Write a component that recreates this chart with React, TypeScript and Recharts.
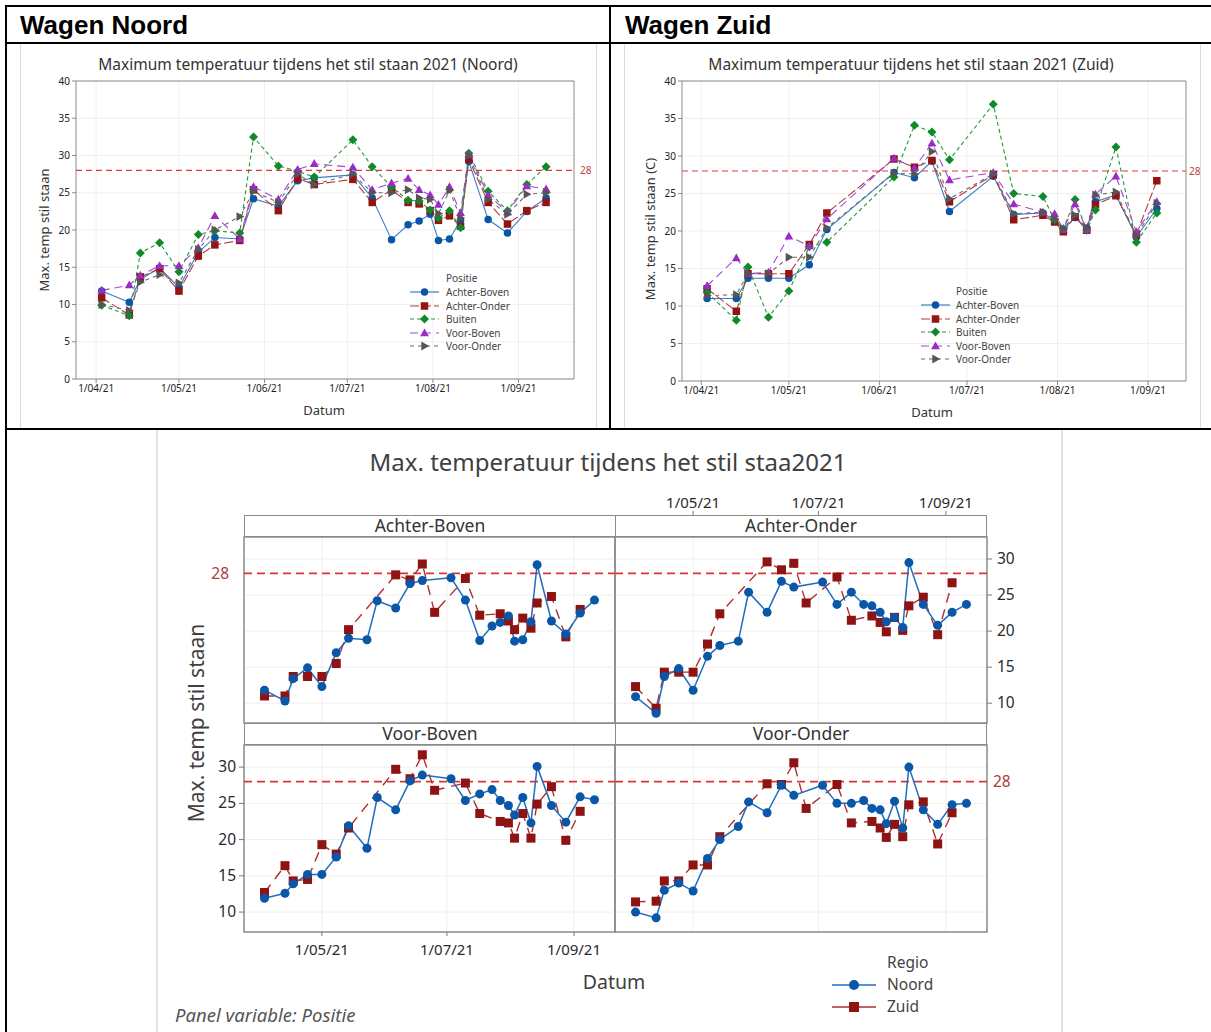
import React from "react";
import { LineChart, Line, XAxis, YAxis, CartesianGrid, ReferenceLine, ReferenceArea } from "recharts";

const FONT = '"Noto Sans", "Open Sans", sans-serif';

// meetdagen
const noordDates = [
  "2021-04-03", "2021-04-13", "2021-04-17", "2021-04-24", "2021-05-01", "2021-05-08", "2021-05-14",
  "2021-05-23", "2021-05-28", "2021-06-06", "2021-06-13", "2021-06-19", "2021-07-03", "2021-07-10",
  "2021-07-17", "2021-07-23", "2021-07-27", "2021-07-31", "2021-08-03", "2021-08-07", "2021-08-11",
  "2021-08-14", "2021-08-21", "2021-08-28", "2021-09-04", "2021-09-11",
];
const zuidDates = [
  "2021-04-03", "2021-04-13", "2021-04-17", "2021-04-24", "2021-05-01", "2021-05-08", "2021-05-14",
  "2021-06-06", "2021-06-13", "2021-06-19", "2021-06-25", "2021-07-10", "2021-07-17", "2021-07-27",
  "2021-07-31", "2021-08-03", "2021-08-07", "2021-08-11", "2021-08-14", "2021-08-21", "2021-08-28",
  "2021-09-04",
];

const POSITIES = ["Achter-Boven", "Achter-Onder", "Buiten", "Voor-Boven", "Voor-Onder"];

// Noord
const noordAchterBoven = [11.8, 10.3, 13.4, 14.9, 12.3, 17.0, 19.0, 18.8, 24.2, 23.2, 26.6, 27.0, 27.4, 24.3, 18.7, 20.7, 21.2, 22.1, 18.6, 18.8, 21.3, 29.2, 21.4, 19.6, 22.5, 24.3];
const noordAchterOnder = [10.9, 8.6, 13.7, 14.8, 11.8, 16.5, 18.0, 18.6, 25.4, 22.6, 26.9, 26.1, 26.8, 23.7, 25.4, 23.7, 23.5, 22.6, 21.3, 21.9, 20.5, 29.5, 23.7, 20.8, 22.6, 23.7];
const noordBuiten = [9.9, 8.5, 16.9, 18.3, 14.4, 19.4, 19.9, 19.6, 32.5, 28.6, 27.9, 27.1, 32.1, 28.5, 25.8, 24.0, 23.9, 22.7, 21.6, 22.6, 20.3, 30.3, 25.2, 22.6, 26.1, 28.5];
const noordVoorBoven = [11.9, 12.6, 13.9, 15.2, 15.2, 17.6, 21.9, 18.8, 25.8, 24.1, 28.1, 28.9, 28.4, 25.4, 26.3, 26.9, 25.4, 24.7, 23.4, 25.8, 22.3, 30.1, 24.7, 22.4, 25.9, 25.5];
const noordVoorOnder = [10.0, 9.2, 13.0, 14.0, 12.9, 17.4, 20.0, 21.8, 25.2, 23.7, 27.5, 26.1, 27.5, 25.0, 25.0, 25.4, 24.3, 24.1, 22.2, 25.3, 21.6, 30.0, 24.1, 22.1, 24.8, 25.0];

// Zuid
const zuidAchterBoven = [11.0, 11.0, 13.7, 13.7, 13.7, 15.5, 20.2, 27.8, 27.1, 29.3, 22.6, 27.3, 22.2, 22.4, 21.4, 20.2, 21.8, 20.4, 23.9, 24.8, 19.2, 23.0];
const zuidAchterOnder = [12.3, 9.3, 14.3, 14.3, 14.3, 18.2, 22.4, 29.6, 28.5, 29.4, 23.9, 27.5, 21.5, 22.1, 21.2, 19.9, 21.9, 20.1, 23.5, 24.7, 19.5, 26.7];
const zuidBuiten = [11.8, 8.1, 15.2, 8.5, 12.0, 17.9, 18.5, 27.2, 34.1, 33.2, 29.5, 36.9, 25.0, 24.6, 21.5, 20.3, 24.2, 20.1, 22.8, 31.2, 18.5, 22.4];
const zuidVoorBoven = [12.7, 16.4, 14.3, 14.5, 19.3, 18.0, 21.6, 29.7, 28.4, 31.7, 26.8, 27.8, 23.6, 22.5, 22.3, 20.2, 23.6, 20.2, 24.9, 27.3, 19.9, 23.9];
const zuidVoorOnder = [11.4, 11.5, 14.3, 14.3, 16.5, 16.5, 20.4, 27.7, 27.6, 30.6, 24.3, 27.6, 22.3, 22.5, 21.6, 20.3, 22.1, 20.4, 24.8, 25.2, 19.4, 23.7];

const monthTicks = ["2021-04-01", "2021-05-01", "2021-06-01", "2021-07-01", "2021-08-01", "2021-09-01"];
const panelMonthTicks = ["2021-05-01", "2021-07-01", "2021-09-01"];
const overviewYTicks = [0, 5, 10, 15, 20, 25, 30, 35, 40];
const panelYTicks = [10, 15, 20, 25, 30];
const THRESHOLD = 28;

const DAY_MS = 86400000;
const BASE = Date.UTC(2021, 3, 1);
const toDay = (iso: string) => Math.round((Date.parse(iso) - BASE) / DAY_MS);
const fmtDate = (d: number) => {
  const t = new Date(BASE + d * DAY_MS);
  return `${t.getUTCDate()}/${String(t.getUTCMonth() + 1).padStart(2, "0")}/21`;
};
const toPoints = (dates: string[], values: number[]) => dates.map((d, i) => ({ day: toDay(d), temp: values[i] }));

const MONTH_DAYS = monthTicks.map(toDay);
const PANEL_MONTH_DAYS = panelMonthTicks.map(toDay);

type Shape = "circle" | "square" | "diamond" | "triangle" | "arrow";

const POS_STYLE: Record<string, { line: string; fill: string; dash?: string; shape: Shape; size: number }> = {
  "Achter-Boven": { line: "#3a7fc8", fill: "#0a56a6", shape: "circle", size: 7.5 },
  "Achter-Onder": { line: "#b23c3c", fill: "#941414", dash: "9 3", shape: "square", size: 7.5 },
  Buiten: { line: "#1d9a38", fill: "#0f8a28", dash: "4 3", shape: "diamond", size: 7.5 },
  "Voor-Boven": { line: "#a744d2", fill: "#9a2cc6", dash: "8 5", shape: "triangle", size: 8 },
  "Voor-Onder": { line: "#6a6a6a", fill: "#555555", dash: "4 4", shape: "arrow", size: 8 },
};

function Marker({ shape, x, y, s, fill }: { shape: Shape; x: number; y: number; s: number; fill: string }) {
  const h = s / 2;
  if (shape === "circle") return <circle cx={x} cy={y} r={h} fill={fill} />;
  if (shape === "square") return <rect x={x - h} y={y - h} width={s} height={s} fill={fill} />;
  if (shape === "diamond")
    return <polygon points={`${x},${y - h * 1.2} ${x + h * 1.2},${y} ${x},${y + h * 1.2} ${x - h * 1.2},${y}`} fill={fill} />;
  if (shape === "triangle")
    return <polygon points={`${x},${y - h * 1.15} ${x + h * 1.1},${y + h * 0.8} ${x - h * 1.1},${y + h * 0.8}`} fill={fill} />;
  return <polygon points={`${x + h * 1.15},${y} ${x - h * 0.8},${y - h * 1.1} ${x - h * 0.8},${y + h * 1.1}`} fill={fill} />;
}

const dotFor = (shape: Shape, fill: string, s: number) => (p: any) => {
  const { cx, cy, index } = p;
  if (cx == null || cy == null) return <g key={`e${index}`} />;
  return <Marker key={`m${index}`} shape={shape} x={cx} y={cy} s={s} fill={fill} />;
};

function Txt({ x, y, size, children, anchor = "middle", rotate = false, color = "#3a3a3a", weight = 400, italic = false, family = FONT }: any) {
  const tx = anchor === "middle" ? "-50%" : "0";
  return (
    <div
      style={{
        position: "absolute", left: x, top: y, fontSize: size, color, fontWeight: weight,
        fontStyle: italic ? "italic" : "normal", fontFamily: family, whiteSpace: "nowrap", lineHeight: 1,
        transform: `translate(${tx}, -50%)${rotate ? " rotate(-90deg)" : ""}`,
      }}
    >
      {children}
    </div>
  );
}

function Overview(props: {
  left: number; top: number; width: number; height: number;
  margin: { top: number; right: number; bottom: number; left: number };
  domain: [number, number]; dates: string[]; values: number[][]; labelOffset: number;
}) {
  const { left, top, width, height, margin, domain, dates, values, labelOffset } = props;
  return (
    <div style={{ position: "absolute", left, top }}>
      <LineChart width={width} height={height} margin={margin} style={{ overflow: "visible" }}>
        <CartesianGrid stroke="#efefef" verticalValues={MONTH_DAYS} horizontalValues={overviewYTicks} />
        <XAxis
          dataKey="day" type="number" domain={domain} ticks={MONTH_DAYS} tickFormatter={fmtDate}
          allowDataOverflow height={22} axisLine={false} tickSize={4} tickLine={{ stroke: "#8a8a8a" }}
          tick={{ fontSize: 10, fill: "#222", fontFamily: FONT }} interval={0}
        />
        <YAxis
          type="number" domain={[0, 40]} ticks={overviewYTicks} width={30} axisLine={false} tickSize={4}
          tickLine={{ stroke: "#8a8a8a" }} tick={{ fontSize: 10, fill: "#222", fontFamily: FONT }} interval={0}
        />
        <ReferenceArea x1={domain[0]} x2={domain[1]} y1={0} y2={40} fill="none" stroke="#8c8c8c" strokeWidth={1} />
        <ReferenceLine
          y={THRESHOLD} stroke="#e0393b" strokeWidth={1.2} strokeDasharray="6 4"
          label={{ value: "28", position: "right", offset: labelOffset, fill: "#b8403a", fontSize: 10, fontFamily: FONT }}
        />
        {POSITIES.map((p, i) => {
          const st = POS_STYLE[p];
          return (
            <Line
              key={p} data={toPoints(dates, values[i])} dataKey="temp" stroke={st.line} strokeWidth={1.1}
              strokeDasharray={st.dash} dot={dotFor(st.shape, st.fill, st.size)} activeDot={false}
              isAnimationActive={false}
            />
          );
        })}
      </LineChart>
    </div>
  );
}

function LegendSample({ stroke, dash, shape, fill, s, w, width = 1.2 }: any) {
  return (
    <svg width={w} height={12} style={{ display: "block" }}>
      <line x1={0} x2={w} y1={6} y2={6} stroke={stroke} strokeWidth={width} strokeDasharray={dash} />
      <Marker shape={shape} x={w / 2} y={6} s={s} fill={fill} />
    </svg>
  );
}

function PositieLegend({ sampleX, textX, titleY, rowYs }: { sampleX: number; textX: number; titleY: number; rowYs: number[] }) {
  return (
    <>
      <Txt x={textX} y={titleY} size={10} anchor="start" color="#444">Positie</Txt>
      {POSITIES.map((p, i) => {
        const st = POS_STYLE[p];
        return (
          <React.Fragment key={p}>
            <div style={{ position: "absolute", left: sampleX, top: rowYs[i] - 6 }}>
              <LegendSample stroke={st.line} dash={st.dash} shape={st.shape} fill={st.fill} s={st.size} w={29} />
            </div>
            <Txt x={textX} y={rowYs[i]} size={10} anchor="start" color="#444">{p}</Txt>
          </React.Fragment>
        );
      })}
    </>
  );
}

// panel layout constants
const PANEL_X: [number, number] = [-8, 173];
const PANEL_Y: [number, number] = [7.25, 33.05];
const PADL = 70, PADT = 60, PADR = 70, PADB = 40, STRIP = 22;
const NOORD_COLOR = "#1f6dbf", NOORD_FILL = "#0a57a8";
const ZUID_COLOR = "#ad3030", ZUID_FILL = "#8e1313";

function Panel(props: {
  plotX: number; plotY: number; plotW: number; plotH: number; noord: number[]; zuid: number[];
  axisTop?: boolean; axisBottom?: boolean; axisLeft?: boolean; axisRight?: boolean; refLabel?: "left" | "right";
}) {
  const { plotX, plotY, plotW, plotH, noord, zuid, axisTop, axisBottom, axisLeft, axisRight, refLabel } = props;
  const showX = !!(axisTop || axisBottom);
  const showY = !!(axisLeft || axisRight);
  const margin = {
    top: PADT - (axisTop ? 40 : 0),
    bottom: PADB - (axisBottom ? 30 : 0),
    left: PADL - (axisLeft ? 40 : 0),
    right: PADR - (axisRight ? 40 : 0),
  };
  const xTick = (p: any) => {
    const x = p.x;
    const label = fmtDate(p.payload.value);
    if (axisTop) {
      const y0 = PADT - STRIP;
      return (
        <g key={`t${p.index}`}>
          <line x1={x} x2={x} y1={y0} y2={y0 - 4} stroke="#777" />
          <text x={x} y={y0 - 7} textAnchor="middle" fontSize={15} fill="#2a2a2a" fontFamily={FONT}>{label}</text>
        </g>
      );
    }
    const y0 = PADT + plotH;
    return (
      <g key={`t${p.index}`}>
        <line x1={x} x2={x} y1={y0} y2={y0 + 4} stroke="#777" />
        <text x={x} y={y0 + 23} textAnchor="middle" fontSize={15} fill="#2a2a2a" fontFamily={FONT}>{label}</text>
      </g>
    );
  };
  const yTick = (p: any) => {
    const y = p.y;
    const v = p.payload.value;
    if (axisRight) {
      const x0 = PADL + plotW;
      return (
        <g key={`y${p.index}`}>
          <line x1={x0} x2={x0 + 5} y1={y} y2={y} stroke="#777" />
          <text x={x0 + 10} y={y + 5} textAnchor="start" fontSize={15.5} fill="#2a2a2a" fontFamily={FONT}>{v}</text>
        </g>
      );
    }
    return (
      <g key={`y${p.index}`}>
        <line x1={PADL - 5} x2={PADL} y1={y} y2={y} stroke="#777" />
        <text x={PADL - 8} y={y + 5} textAnchor="end" fontSize={15.5} fill="#2a2a2a" fontFamily={FONT}>{v}</text>
      </g>
    );
  };
  return (
    <div style={{ position: "absolute", left: plotX - PADL, top: plotY - PADT }}>
      <LineChart width={plotW + PADL + PADR} height={plotH + PADT + PADB} margin={margin} style={{ overflow: "visible" }}>
        <CartesianGrid stroke="#efefef" verticalValues={PANEL_MONTH_DAYS} horizontalValues={panelYTicks} />
        <XAxis
          dataKey="day" type="number" domain={PANEL_X} ticks={PANEL_MONTH_DAYS} allowDataOverflow hide={!showX}
          orientation={axisTop ? "top" : "bottom"} height={axisTop ? 40 : 30} axisLine={false} tickLine={false}
          tick={xTick} interval={0}
        />
        <YAxis
          type="number" domain={PANEL_Y} ticks={panelYTicks} allowDataOverflow hide={!showY}
          orientation={axisRight ? "right" : "left"} width={40} axisLine={false} tickLine={false} tick={yTick}
          interval={0}
        />
        <ReferenceArea x1={PANEL_X[0]} x2={PANEL_X[1]} y1={PANEL_Y[0]} y2={PANEL_Y[1]} fill="none" stroke="#8a8a8a" strokeWidth={1.5} />
        <ReferenceLine
          y={THRESHOLD} stroke="#d93434" strokeWidth={1.6} strokeDasharray="8 5"
          label={refLabel ? { value: "28", position: refLabel, offset: refLabel === "left" ? 15 : 6, fill: "#b23b3b", fontSize: 15.5, fontFamily: FONT } : undefined}
        />
        <Line
          data={toPoints(zuidDates, zuid)} dataKey="temp" stroke={ZUID_COLOR} strokeWidth={1.4} strokeDasharray="10 7"
          dot={dotFor("square", ZUID_FILL, 9)} activeDot={false} isAnimationActive={false}
        />
        <Line
          data={toPoints(noordDates, noord)} dataKey="temp" stroke={NOORD_COLOR} strokeWidth={1.5}
          dot={dotFor("circle", NOORD_FILL, 9)} activeDot={false} isAnimationActive={false}
        />
      </LineChart>
    </div>
  );
}

function Strip({ x, y, w, label }: { x: number; y: number; w: number; label: string }) {
  return (
    <div
      style={{
        position: "absolute", left: x, top: y, width: w, height: STRIP, boxSizing: "border-box",
        border: "1.5px solid #8a8a8a", fontFamily: FONT, fontSize: 17.5, color: "#333",
        display: "flex", alignItems: "center", justifyContent: "center", lineHeight: 1,
      }}
    >
      {label}
    </div>
  );
}

const hLine = (left: number, top: number, width: number, h = 2, color = "#000") => (
  <div style={{ position: "absolute", left, top, width, height: h, background: color }} />
);
const vLine = (left: number, top: number, height: number, w = 2, color = "#000") => (
  <div style={{ position: "absolute", left, top, width: w, height, background: color }} />
);

export default function App() {
  const noordVals = [noordAchterBoven, noordAchterOnder, noordBuiten, noordVoorBoven, noordVoorOnder];
  const zuidVals = [zuidAchterBoven, zuidAchterOnder, zuidBuiten, zuidVoorBoven, zuidVoorOnder];
  return (
    <div style={{ position: "absolute", left: 0, top: 0, width: 1211, height: 1032, background: "#fff", overflow: "hidden", fontFamily: FONT }}>
      {/* table frame */}
      {hLine(5, 5, 1206)}
      {hLine(5, 42, 1206)}
      {hLine(5, 428, 1206, 1.5)}
      {vLine(5, 5, 1027)}
      {vLine(609, 5, 424)}
      <Txt x={20} y={25} size={26} anchor="start" weight={700} color="#000" family='"Liberation Sans", Arial, sans-serif'>Wagen Noord</Txt>
      <Txt x={625} y={25} size={26} anchor="start" weight={700} color="#000" family='"Liberation Sans", Arial, sans-serif'>Wagen Zuid</Txt>

      {/* chart image edges */}
      {vLine(20, 44, 384, 1, "#dcdcdc")}
      {vLine(596, 44, 384, 1, "#dcdcdc")}
      {vLine(624, 44, 384, 1, "#dcdcdc")}
      {vLine(1200, 44, 384, 1, "#dcdcdc")}

      {/* Noord */}
      <Txt x={308} y={65} size={15.5} color="#333">Maximum temperatuur tijdens het stil staan 2021 (Noord)</Txt>
      <Overview
        left={20} top={44} width={577} height={385} margin={{ top: 37, right: 23, bottom: 28, left: 26 }}
        domain={[-7.3, 173.1]} dates={noordDates} values={noordVals} labelOffset={6}
      />
      <Txt x={44} y={230} size={13} rotate color="#333">Max. temp stil staan</Txt>
      <Txt x={324} y={410} size={13} color="#333">Datum</Txt>
      <PositieLegend sampleX={410} textX={446} titleY={278} rowYs={[292, 306, 319, 333, 346]} />

      {/* Zuid */}
      <Txt x={911} y={65} size={15.5} color="#333">Maximum temperatuur tijdens het stil staan 2021 (Zuid)</Txt>
      <Overview
        left={624} top={44} width={590} height={385} margin={{ top: 37, right: 28, bottom: 26, left: 28 }}
        domain={[-6.6, 166]} dates={zuidDates} values={zuidVals} labelOffset={3}
      />
      <Txt x={650} y={229} size={13} rotate color="#333">Max. temp stil staan (C)</Txt>
      <Txt x={932} y={412} size={13} color="#333">Datum</Txt>
      <PositieLegend sampleX={921} textX={956} titleY={291} rowYs={[305, 319, 332, 346, 359]} />

      {/* panel chart */}
      {vLine(156, 430, 602, 2, "#e2e2e2")}
      {vLine(1061, 430, 602, 2, "#e2e2e2")}
      <Txt x={608} y={462} size={24} color="#404040">Max. temperatuur tijdens het stil staa2021</Txt>

      <Panel plotX={244} plotY={537} plotW={371} plotH={186} noord={noordAchterBoven} zuid={zuidAchterBoven} refLabel="left" />
      <Panel plotX={615} plotY={537} plotW={372} plotH={186} noord={noordAchterOnder} zuid={zuidAchterOnder} axisTop axisRight />
      <Panel plotX={244} plotY={745} plotW={371} plotH={187} noord={noordVoorBoven} zuid={zuidVoorBoven} axisLeft axisBottom />
      <Panel plotX={615} plotY={745} plotW={372} plotH={187} noord={noordVoorOnder} zuid={zuidVoorOnder} refLabel="right" />
      <Strip x={244} y={515} w={372} label="Achter-Boven" />
      <Strip x={615} y={515} w={372} label="Achter-Onder" />
      <Strip x={244} y={723} w={372} label="Voor-Boven" />
      <Strip x={615} y={723} w={372} label="Voor-Onder" />

      <Txt x={196} y={723} size={21} rotate color="#404040">Max. temp stil staan</Txt>
      <Txt x={614} y={982} size={19.5} color="#404040">Datum</Txt>
      <Txt x={887} y={963} size={15.5} anchor="start" color="#444">Regio</Txt>
      <div style={{ position: "absolute", left: 832, top: 979 }}>
        <LegendSample stroke={NOORD_COLOR} shape="circle" fill={NOORD_FILL} s={10} w={44} width={1.6} />
      </div>
      <Txt x={887} y={985} size={15.5} anchor="start" color="#444">Noord</Txt>
      <div style={{ position: "absolute", left: 832, top: 1001 }}>
        <LegendSample stroke={ZUID_COLOR} shape="square" fill={ZUID_FILL} s={10} w={44} width={1.4} />
      </div>
      <Txt x={887} y={1007} size={15.5} anchor="start" color="#444">Zuid</Txt>
      <Txt x={175} y={1015} size={18.5} anchor="start" italic color="#555">Panel variable: Positie</Txt>
    </div>
  );
}
